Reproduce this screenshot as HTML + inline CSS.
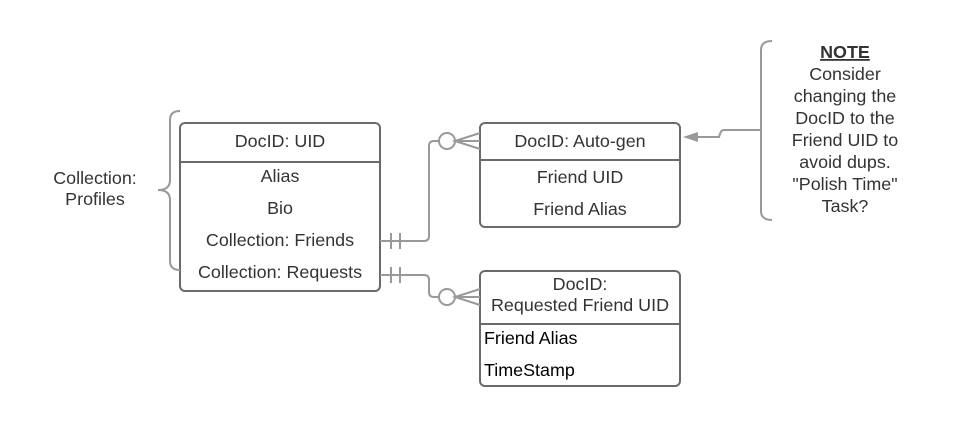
<!DOCTYPE html>
<html><head><style>
body{margin:0;background:#fff;}
svg text{font-family:"Liberation Sans",sans-serif;font-size:17.9px;fill:#333;}
</style></head><body>
<svg width="960" height="428" viewBox="0 0 960 428" xmlns="http://www.w3.org/2000/svg">
<g fill="none" stroke="#6a6a6a" stroke-width="2">
<rect x="180" y="123" width="200" height="168" rx="5"/>
<line x1="180" y1="162" x2="380" y2="162"/>
<rect x="480" y="123" width="200" height="104" rx="5"/>
<line x1="480" y1="160" x2="680" y2="160"/>
<rect x="480" y="271" width="200" height="115" rx="5"/>
<line x1="480" y1="324" x2="680" y2="324"/>
</g>
<g fill="none" stroke="#999" stroke-width="2">
<path d="M180 111 Q170 111 170 120 L170 180 Q170 190 158 190 Q170 190 170 200 L170 261 Q170 270 180 270"/>
<path d="M772 41 Q761 41 761 50 L761 211 Q761 220 772 220"/>
<path d="M380 241 L424 241 Q429 241 429 236 L429 146 Q429 141 434 141 L439 141"/>
<line x1="391" y1="233" x2="391" y2="249"/><line x1="400" y1="233" x2="400" y2="249"/>
<circle cx="447" cy="141" r="8"/>
<path d="M480 133 L455 141 L480 149 M455 141 L480 141"/>
<path d="M380 275 L424 275 Q429 275 429 280 L429 292 Q429 297 434 297 L439 297"/>
<line x1="391" y1="267" x2="391" y2="283"/><line x1="400" y1="267" x2="400" y2="283"/>
<circle cx="447" cy="297" r="8"/>
<path d="M480 289 L455 297 L480 305 M455 297 L480 297"/>
<path d="M761 130 L724 130 Q721 130 720 134 L719 137 L697 137"/>
</g>
<polygon points="683,137 698,132 698,142" fill="#999"/>
<g text-anchor="middle">
<text x="280" y="147">DocID: UID</text>
<text x="280" y="182">Alias</text>
<text x="280" y="214">Bio</text>
<text x="280" y="246">Collection: Friends</text>
<text x="280" y="278">Collection: Requests</text>
<text x="95" y="184">Collection:</text>
<text x="95" y="205">Profiles</text>
<text x="580" y="147">DocID: Auto-gen</text>
<text x="580" y="183">Friend UID</text>
<text x="580" y="215">Friend Alias</text>
<text x="580" y="290">DocID:</text>
<text x="580" y="311">Requested Friend UID</text>
<text x="845" y="58" font-weight="bold" text-decoration="underline">NOTE</text>
<text x="845" y="80">Consider</text>
<text x="845" y="102">changing the</text>
<text x="845" y="124">DocID to the</text>
<text x="845" y="146">Friend UID to</text>
<text x="845" y="168">avoid dups.</text>
<text x="845" y="190">"Polish Time"</text>
<text x="845" y="212">Task?</text>
</g>
<text x="484" y="344" style="fill:#000">Friend Alias</text>
<text x="484" y="376" style="fill:#000">TimeStamp</text>
</svg>
</body></html>
